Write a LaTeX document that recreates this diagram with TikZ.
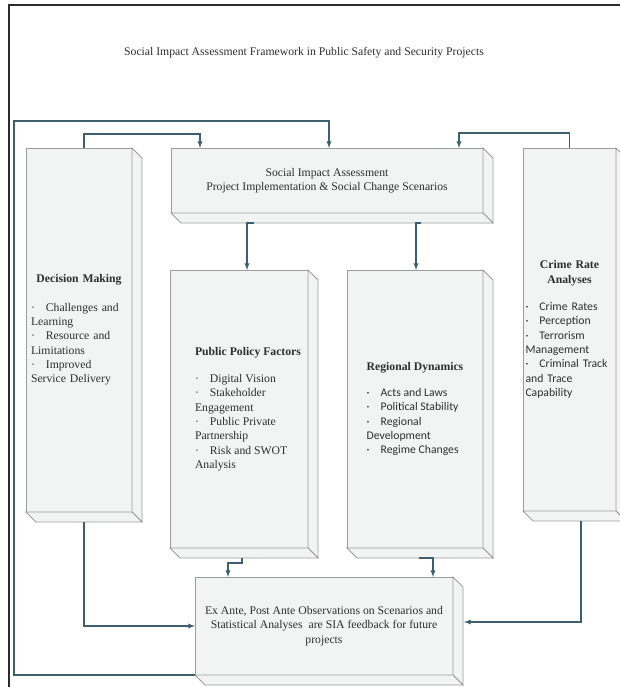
\documentclass[tikz,border=0pt]{standalone}
\usepackage{fontspec}
\usepackage{array}
\setmainfont{Liberation Serif}
\newfontfamily\calibri{Carlito}
\usetikzlibrary{arrows, positioning}

\definecolor{boxfill}{HTML}{F2F3F3}
\definecolor{boxline}{HTML}{9C9C9C}
\definecolor{linkcol}{HTML}{3F5F6E}
\definecolor{framecol}{HTML}{2B2B2B}
\definecolor{txtcol}{HTML}{2E2E2E}

\newcommand{\itm}{·\hspace{11pt}}

\begin{document}
\begin{tikzpicture}[x=1pt, y=-1pt,
  slab/.style={draw=boxline, fill=boxfill, line width=0.8pt, inner sep=0pt, outer sep=0pt,
    anchor=north west, text=txtcol, font=\fontsize{11.7}{14.3}\selectfont},
  face/.style={draw=boxline, fill=boxfill, line width=0.8pt},
  link/.style={draw=linkcol, line width=1.3pt, -latex},
  frame/.style={draw=framecol, line width=2pt}]

\useasboundingbox (0,0) rectangle (620,687);
\draw[frame] (9,687) -- (9,5) -- (620,5);

\node[text=txtcol, font=\fontsize{11.7}{14.3}\selectfont] (title) at (304,53)
  {Social Impact Assessment Framework in Public Safety and Security Projects};

% boxes
\node[slab, minimum width=106pt, minimum height=364pt, text width=96pt, align=left] (dm) at (26,148)
  {\makebox[\linewidth]{\textbf{Decision Making}}\\[14pt]
   \itm Challenges and\\Learning\\\itm Resource and\\Limitations\\\itm Improved\\Service Delivery};
\node[slab, minimum width=312pt, minimum height=65pt, align=center] (sia) at (171,148)
  {Social Impact Assessment\\Project Implementation \& Social Change Scenarios};
\node[slab, minimum width=138pt, minimum height=278pt] (ppf) at (170,270)
  {\begin{tabular}{@{\hspace{18pt}}l@{}}
   \textbf{Public Policy Factors}\\[13pt]
   \itm Digital Vision\\\itm Stakeholder\\Engagement\\\itm Public Private\\Partnership\\\itm Risk and SWOT\\Analysis
   \end{tabular}};
\node[slab, minimum width=136pt, minimum height=278pt] (rd) at (347,270)
  {\begin{tabular}{@{}>{\calibri}l@{}}
   {\rmfamily\bfseries Regional Dynamics}\\[12pt]
   \itm Acts and Laws\\\itm Political Stability\\\itm Regional\\Development\\\itm Regime Changes
   \end{tabular}};
\node[slab, minimum width=93pt, minimum height=363pt, text width=88pt, align=left] (cra) at (523,148)
  {\makebox[\linewidth]{\textbf{Crime Rate}}\\\makebox[\linewidth]{\textbf{Analyses}}\\[13pt]
   \calibri\itm Crime Rates\\\itm Perception\\\itm Terrorism\\Management\\\itm Criminal Track\\and Trace\\Capability};
\node[slab, minimum width=258pt, minimum height=98pt, align=center] (obs) at (195,577)
  {Ex Ante, Post Ante Observations on Scenarios and\\Statistical Analyses\ \ are SIA feedback for future\\projects};

% depth of the boxes
\foreach \n in {dm,sia,ppf,rd,cra,obs}{
  \draw[face] (\n.north east) -- ++(10,10) -- ([shift={(10pt,-10pt)}]\n.south east) -- (\n.south east) -- cycle;
  \draw[face] (\n.south west) -- ++(10,10) -- ([shift={(10pt,-10pt)}]\n.south east) -- (\n.south east) -- cycle;
}

% connectors
\draw[link] ([xshift=5pt]dm.north) -- ++(0,-14) -| ([xshift=29pt]sia.north west);
\draw[link] (obs.south west) -- ++(-181,0) -- ++(0,-554) -| ([xshift=2pt]sia.north);
\draw[link] (cra.north) -- ++(0,-15) -| ([xshift=-24pt]sia.north east);
\draw[link] ([xshift=83pt,yshift=-10pt]sia.south west) -| ([xshift=8pt]ppf.north);
\draw[link] ([xshift=250pt,yshift=-10pt]sia.south west) -| ([xshift=1pt]rd.north);
\draw[link] ([xshift=72pt,yshift=-10pt]ppf.south west) -- ++(0,5) -| ([xshift=33pt]obs.north west);
\draw[link] ([xshift=72pt,yshift=-10pt]rd.south west) -| ([xshift=238pt]obs.north west);
\draw[link] ([xshift=5pt,yshift=-10pt]dm.south) |- (obs.west);
\draw[link] ([xshift=11.5pt,yshift=-10pt]cra.south) |- ([xshift=11pt,yshift=4pt]obs.east);

\end{tikzpicture}
\end{document}
